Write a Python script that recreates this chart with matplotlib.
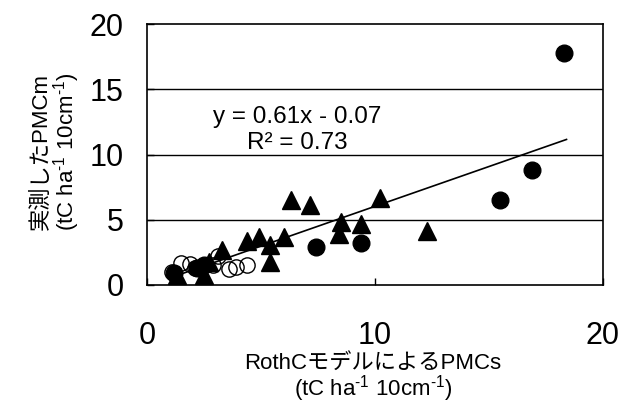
import matplotlib
matplotlib.use("Agg")
import matplotlib.pyplot as plt
import numpy as np

plt.rcParams['font.family'] = ['Liberation Sans', 'Noto Sans CJK JP', 'DejaVu Sans']
plt.rcParams['mathtext.fontset'] = 'custom'
plt.rcParams['mathtext.rm'] = 'Liberation Sans'
plt.rcParams['mathtext.it'] = 'Liberation Sans:italic'
plt.rcParams['mathtext.bf'] = 'Liberation Sans:bold'

# Data
filled_x = [1.2, 2.2, 2.5, 7.4, 9.4, 15.5, 16.9, 18.3]
filled_y = [0.9, 1.3, 1.5, 2.9, 3.25, 6.5, 8.8, 17.8]

tri_x = [1.3, 2.5, 2.7, 3.3, 4.4, 4.9, 5.4, 5.4, 6.0, 6.3, 7.15, 8.4, 8.5, 9.4, 10.2, 12.3]
tri_y = [0.8, 0.8, 1.8, 2.7, 3.4, 3.7, 3.1, 1.8, 3.7, 6.5, 6.1, 3.9, 4.8, 4.7, 6.7, 4.1]

open_x = [1.1, 1.5, 1.9, 2.1, 2.9, 3.1, 3.6, 3.9, 4.4]
open_y = [1.0, 1.7, 1.6, 1.3, 1.5, 2.2, 1.2, 1.35, 1.5]

slope = 0.61
intercept = -0.07
fit_range = [1.1, 18.4]

x_ticks = [0, 10, 20]
y_ticks = [0, 5, 10, 15, 20]

fig = plt.figure(figsize=(6.37, 4.05), dpi=100)
ax = fig.add_axes([0.2308, 0.2963, 0.7158, 0.6444])

for y in y_ticks[1:-1]:
    ax.axhline(y, color='black', lw=1.0, zorder=1)

ax.plot(filled_x, filled_y, 'o', color='black', ms=12, zorder=3)
ax.plot(tri_x, tri_y, '^', color='black', ms=13, zorder=3)
ax.plot(open_x, open_y, 'o', mfc='none', mec='black', mew=1.0, ms=11, zorder=4)

fx = np.array(fit_range)
ax.plot(fx, slope * fx + intercept, color='black', lw=1.2, zorder=5)

ax.text(6.6, 12.9, 'y = 0.61x - 0.07', ha='center', va='center', fontsize=17.5, zorder=6)
ax.text(6.6, 10.9, 'R² = 0.73', ha='center', va='center', fontsize=17.5, zorder=6)

ax.set_xlim(0, 20)
ax.set_ylim(0, 20)
ax.set_xticks(x_ticks)
ax.set_yticks(y_ticks)
ax.tick_params(axis='x', direction='in', length=5, width=1, pad=26, labelsize=22)
ax.tick_params(axis='y', direction='in', length=5, width=1, pad=17, labelsize=22)
for s in ax.spines.values():
    s.set_linewidth(1.2)

unit = '(tC ha$^{\\text{-1}}$ 10cm$^{\\text{-1}}$)'
fig.text(373 / 637, 1 - 363 / 405, 'RothCモデルによるPMCs', ha='center', va='center', fontsize=16)
fig.text(373 / 637, 1 - 389 / 405, unit, ha='center', va='center', fontsize=16)
fig.text(41 / 637, 1 - 152 / 405, '実測したPMCm', ha='center', va='center', rotation=90, fontsize=16)
fig.text(67 / 637, 1 - 152 / 405, unit, ha='center', va='center', rotation=90, fontsize=16)

fig.savefig('out.png', dpi=100)
